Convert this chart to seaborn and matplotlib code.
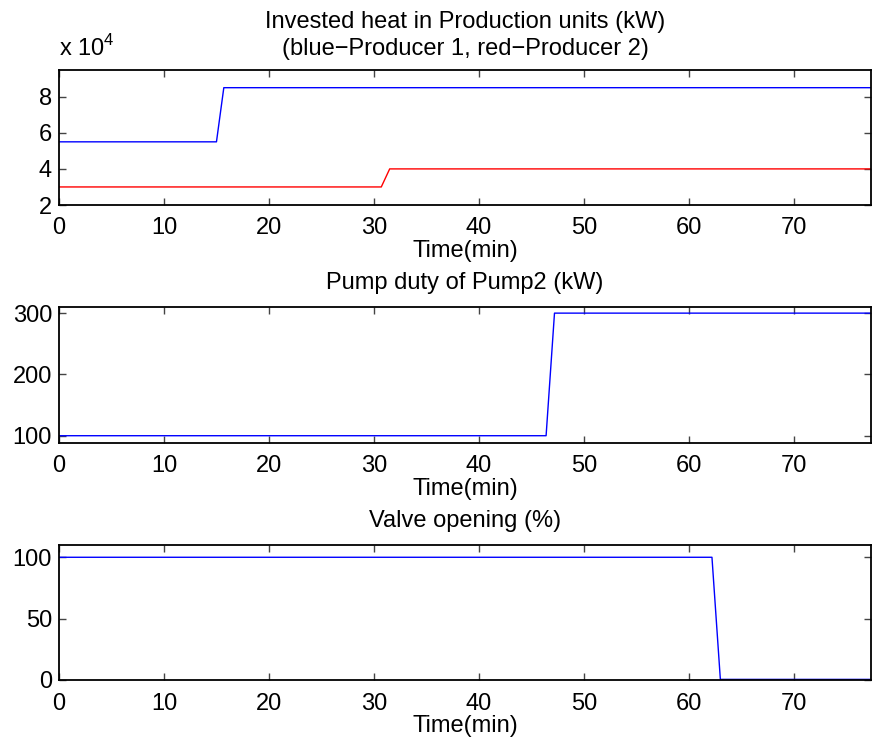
import numpy as np
import pandas as pd
import matplotlib
matplotlib.use("Agg")
import matplotlib.pyplot as plt
import seaborn as sns

# ---- data ----
t_p1 = [0, 15.0, 15.7, 80]
heat_p1 = [5.5, 5.5, 8.5, 8.5]          # x 10^4 kW
t_p2 = [0, 30.7, 31.5, 80]
heat_p2 = [3.0, 3.0, 4.0, 4.0]          # x 10^4 kW
t_pump = [0, 46.4, 47.2, 80]
pump_duty = [100, 100, 300, 300]
t_valve = [0, 62.2, 63.0, 80]
valve_open = [100, 100, 0.5, 0.5]

xticks = [0, 10, 20, 30, 40, 50, 60, 70]
x_max = 77.35

sns.set_theme(style="white")
plt.rcParams['font.family'] = ['Liberation Sans', 'DejaVu Sans']
plt.rcParams['mathtext.fontset'] = 'custom'
plt.rcParams['mathtext.rm'] = 'Liberation Sans'
plt.rcParams['text.color'] = 'black'
plt.rcParams['axes.labelcolor'] = 'black'
plt.rcParams['axes.titlecolor'] = 'black'

fig = plt.figure(figsize=(8.72, 7.44), dpi=100)
left, width = 59 / 872, (871 - 59) / 872
h = 135 / 744
ax1 = fig.add_axes([left, 1 - 205 / 744, width, h])
ax2 = fig.add_axes([left, 1 - 442.7 / 744, width, 135.7 / 744])
ax3 = fig.add_axes([left, 1 - 680 / 744, width, h])

lw = 1.0
sns.lineplot(x=t_p1, y=heat_p1, ax=ax1, color='#0000ff', lw=lw, sort=False, estimator=None)
sns.lineplot(x=t_p2, y=heat_p2, ax=ax1, color='#ff0000', lw=lw, sort=False, estimator=None)
sns.lineplot(x=t_pump, y=pump_duty, ax=ax2, color='#0000ff', lw=lw, sort=False, estimator=None)
sns.lineplot(x=t_valve, y=valve_open, ax=ax3, color='#0000ff', lw=lw, sort=False, estimator=None)

ax1.set_ylim(2, 9.48)
ax1.set_yticks([2, 4, 6, 8])
ax2.set_ylim(88.6, 310)
ax2.set_yticks([100, 200, 300])
ax3.set_ylim(0, 110)
ax3.set_yticks([0, 50, 100])

fs = 17
for ax in (ax1, ax2, ax3):
    ax.set_xlim(0, x_max)
    ax.set_xticks(xticks)
    ax.tick_params(direction='in', length=5, width=1, colors='#444444',
                   labelcolor='black', labelsize=fs, top=True, right=True,
                   bottom=True, left=True)
    ax.tick_params(axis='x', pad=9)
    ax.tick_params(axis='y', pad=5)
    for s in ax.spines.values():
        s.set_color('black')
        s.set_linewidth(1.3)
    ax.set_xlabel('Time(min)', fontsize=fs, labelpad=0.5, color='black')
    ax.set_ylabel('')
    ax.grid(False)

ax1.set_title('Invested heat in Production units (kW)\n(blue\u2212Producer 1, red\u2212Producer 2)',
              fontsize=fs, pad=11, linespacing=1.3, color='black')
ax2.set_title('Pump duty of Pump2 (kW)', fontsize=fs, pad=13, color='black')
ax3.set_title('Valve opening (%)', fontsize=fs, pad=13, color='black')
ax1.text(0, 1.07, r'x 10$^{4}$', transform=ax1.transAxes, ha='left', va='bottom',
         fontsize=fs, color='black')

fig.savefig('out.png', dpi=100)
